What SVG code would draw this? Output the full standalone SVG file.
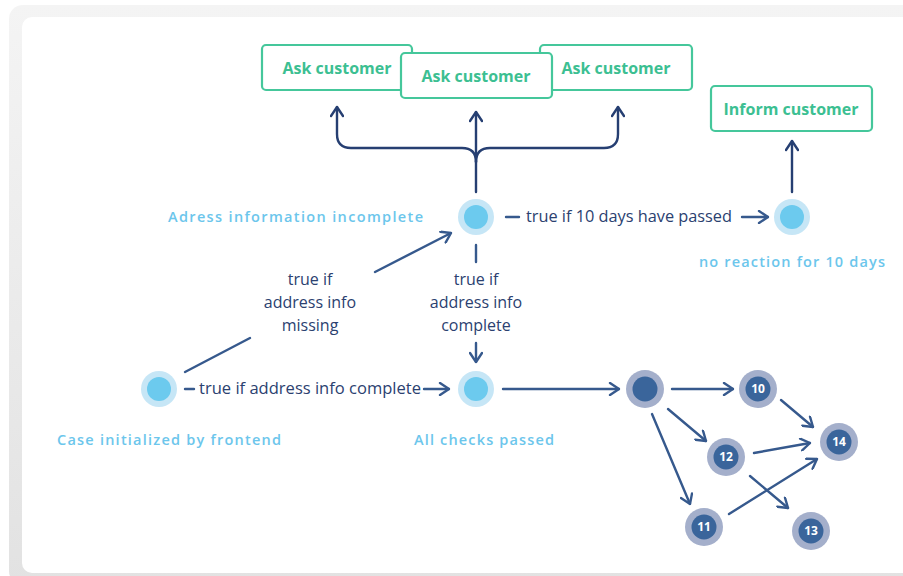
<svg xmlns="http://www.w3.org/2000/svg" width="903" height="576" viewBox="0 0 903 576">
<defs>
<linearGradient id="bgTop" x1="0" y1="0" x2="0" y2="1"><stop offset="0" stop-color="#f4f4f4"/><stop offset="1" stop-color="#e2e2e2"/></linearGradient>
<marker id="chevN" viewBox="0 0 12 14" refX="11" refY="7" markerWidth="12" markerHeight="14" markerUnits="userSpaceOnUse" orient="auto">
<polyline points="2,1 11,7 2,13" fill="none" stroke="#263f72" stroke-width="2.4" stroke-linecap="round" stroke-linejoin="round"/>
</marker>
<marker id="chevB" viewBox="0 0 12 14" refX="11" refY="7" markerWidth="12" markerHeight="14" markerUnits="userSpaceOnUse" orient="auto">
<polyline points="2,1 11,7 2,13" fill="none" stroke="#36598d" stroke-width="2.4" stroke-linecap="round" stroke-linejoin="round"/>
</marker>
</defs>
<style>
.box{fill:#fff;stroke:#45c79b;stroke-width:2.2}
.btxt{font-family:"Open Sans","Noto Sans",sans-serif;font-weight:700;font-size:16px;fill:#3cbf92;text-anchor:middle}
.lbl{font-family:"Open Sans","Noto Sans",sans-serif;font-weight:600;font-size:14.5px;fill:#6cc6ec}
.dtxt{font-family:"Open Sans","Noto Sans",sans-serif;font-weight:500;font-size:16px;fill:#2b4170}
.mid{text-anchor:middle}
.lo{fill:#c6e6f6}.li{fill:#6ccaee}
.do{fill:#a4afcb}.di{fill:#3a659b}
.num{font-family:"Open Sans","Noto Sans",sans-serif;font-weight:700;font-size:12px;fill:#fff;text-anchor:middle}
.navy{fill:none;stroke:#263f72;stroke-width:2.4;stroke-linecap:round}
.blue{fill:none;stroke:#36598d;stroke-width:2.4;stroke-linecap:round}
</style>
<rect x="0" y="0" width="903" height="576" fill="#fff"/>
<rect x="9" y="5" width="910" height="580" rx="14" fill="url(#bgTop)"/>
<rect x="22" y="17" width="900" height="556" rx="10" fill="#fff"/>

<g id="connectors">
<path class="navy" d="M476,192 L476,112" marker-end="url(#chevN)"/>
<path class="navy" d="M476,162 Q476,148 462,148 L351,148 Q337,148 337,134 L337,107" marker-end="url(#chevN)"/>
<path class="navy" d="M476,162 Q476,148 490,148 L604,148 Q618,148 618,134 L618,107" marker-end="url(#chevN)"/>
<path class="navy" d="M792,192 L792,141" marker-end="url(#chevN)"/>
<path class="blue" d="M506,217 L519,217"/>
<path class="blue" d="M742,217 L768,217" marker-end="url(#chevB)"/>
<path class="blue" d="M476,245 L476,262"/>
<path class="blue" d="M476,343 L476,362" marker-end="url(#chevB)"/>
<path class="blue" d="M185,372 L250,338"/>
<path class="blue" d="M375,272 L451,233" marker-end="url(#chevB)"/>
<path class="blue" d="M185,389 L194,389"/>
<path class="blue" d="M424,389 L449,389" marker-end="url(#chevB)"/>
<path class="blue" d="M503,389 L619,389" marker-end="url(#chevB)"/>
<path class="blue" d="M672,389 L733,389" marker-end="url(#chevB)"/>
<path class="blue" d="M668,409 L706,441" marker-end="url(#chevB)"/>
<path class="blue" d="M652,414 L690,504" marker-end="url(#chevB)"/>
<path class="blue" d="M781,400 L813,427" marker-end="url(#chevB)"/>
<path class="blue" d="M754,453 L810,443" marker-end="url(#chevB)"/>
<path class="blue" d="M750,476 L788,508" marker-end="url(#chevB)"/>
<path class="blue" d="M729,514 L817,459" marker-end="url(#chevB)"/>
</g>

<g id="ask1"><rect class="box" x="262" y="45" width="150" height="45" rx="4"/><text class="btxt" x="337" y="74">Ask customer</text></g>
<g id="ask3"><rect class="box" x="540" y="45" width="152" height="45" rx="4"/><text class="btxt" x="616" y="74">Ask customer</text></g>
<g id="ask2"><rect class="box" x="401" y="53" width="151" height="45" rx="4"/><text class="btxt" x="476" y="82">Ask customer</text></g>
<g id="inform"><rect class="box" x="711" y="86" width="161" height="45" rx="4"/><text class="btxt" x="791" y="115">Inform customer</text></g>

<g id="incomplete"><circle class="lo" cx="476" cy="217" r="18"/><circle class="li" cx="476" cy="217" r="12"/>
<text class="lbl" x="168" y="222" textLength="255" lengthAdjust="spacing">Adress information incomplete</text></g>
<g id="noreaction"><circle class="lo" cx="792" cy="217" r="18"/><circle class="li" cx="792" cy="217" r="12"/>
<text class="lbl" x="699" y="267" textLength="186" lengthAdjust="spacing">no reaction for 10 days</text></g>
<g id="caseinit"><circle class="lo" cx="159" cy="389" r="18"/><circle class="li" cx="159" cy="389" r="12"/>
<text class="lbl" x="57" y="445" textLength="224" lengthAdjust="spacing">Case initialized by frontend</text></g>
<g id="allchecks"><circle class="lo" cx="476" cy="389" r="18"/><circle class="li" cx="476" cy="389" r="12"/>
<text class="lbl" x="414" y="445" textLength="140" lengthAdjust="spacing">All checks passed</text></g>

<g id="labels">
<text class="dtxt" x="526" y="222" textLength="206" lengthAdjust="spacingAndGlyphs">true if 10 days have passed</text>
<text class="dtxt" x="199" y="394" textLength="222" lengthAdjust="spacingAndGlyphs">true if address info complete</text>
<text class="dtxt mid" x="310" y="285">true if</text>
<text class="dtxt mid" x="310" y="308">address info</text>
<text class="dtxt mid" x="310" y="331">missing</text>
<text class="dtxt mid" x="476" y="285">true if</text>
<text class="dtxt mid" x="476" y="308">address info</text>
<text class="dtxt mid" x="476" y="331">complete</text>
</g>

<g id="dark"><circle class="do" cx="645" cy="389" r="19"/><circle class="di" cx="645" cy="389" r="12.5"/></g>
<g id="n10"><circle class="do" cx="758" cy="389" r="19"/><circle class="di" cx="758" cy="389" r="12.5"/><text class="num" x="758" y="393">10</text></g>
<g id="n14"><circle class="do" cx="839" cy="442" r="19"/><circle class="di" cx="839" cy="442" r="12.5"/><text class="num" x="839" y="446">14</text></g>
<g id="n12"><circle class="do" cx="726" cy="457" r="19"/><circle class="di" cx="726" cy="457" r="12.5"/><text class="num" x="726" y="461">12</text></g>
<g id="n11"><circle class="do" cx="704" cy="527" r="19"/><circle class="di" cx="704" cy="527" r="12.5"/><text class="num" x="704" y="531">11</text></g>
<g id="n13"><circle class="do" cx="811" cy="531" r="19"/><circle class="di" cx="811" cy="531" r="12.5"/><text class="num" x="811" y="535">13</text></g>
</svg>
